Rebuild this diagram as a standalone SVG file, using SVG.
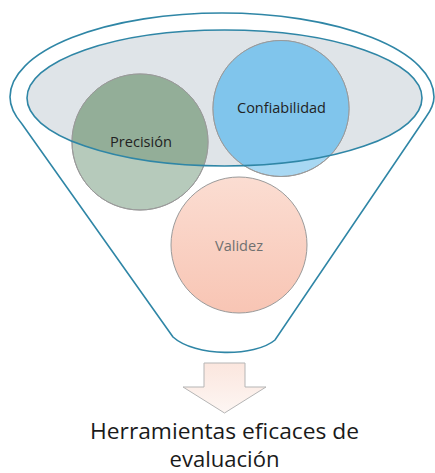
<svg xmlns="http://www.w3.org/2000/svg" width="435" height="473" viewBox="0 0 435 473">
<defs>
<style>
.rim{fill:none;stroke:#2f86a6;stroke-width:1.6}
.circ{stroke:#9a9a9a;stroke-width:1}
.lbl{font-family:"Open Sans","Noto Sans",sans-serif;font-size:14px;fill:#222;text-anchor:middle}
.big{font-family:"Open Sans","Noto Sans",sans-serif;font-size:21px;fill:#1a1a1a;text-anchor:middle}
</style>
<clipPath id="inner"><ellipse cx="224.5" cy="98" rx="197.5" ry="68"/></clipPath>
<linearGradient id="gv" x1="0" y1="0" x2="0" y2="1"><stop offset="0" stop-color="#fbddd2"/><stop offset="1" stop-color="#f8c5b4"/></linearGradient>
<linearGradient id="ga" x1="0" y1="0" x2="0" y2="1"><stop offset="0" stop-color="#fbe6de"/><stop offset="1" stop-color="#fdf6f3"/></linearGradient>
</defs>
<g id="funnel">
<path class="rim" d="M173,337 L22,124 Q10,110 10,97 A212,84 0 0 1 434,97 Q434,106 426,117 L275,340 C255,357 195,357 173,337 Z"/>
<ellipse cx="224.5" cy="98" rx="197.5" ry="68" fill="#dfe4e8"/>
</g>
<g id="precision">
<circle class="circ" cx="140" cy="142" r="68" fill="#b6cabb"/>
<circle cx="140" cy="142" r="68" fill="#93ae98" clip-path="url(#inner)"/>
<circle cx="140" cy="142" r="68" fill="none" class="circ"/>
<text class="lbl" x="141" y="147" textLength="62" lengthAdjust="spacingAndGlyphs">Precisión</text>
</g>
<g id="confiabilidad">
<circle class="circ" cx="281" cy="108.5" r="68" fill="#a8d8f3"/>
<circle cx="281" cy="108.5" r="68" fill="#80c5ec" clip-path="url(#inner)"/>
<circle cx="281" cy="108.5" r="68" fill="none" class="circ"/>
<text class="lbl" x="281.5" y="113" textLength="89" lengthAdjust="spacingAndGlyphs">Confiabilidad</text>
</g>
<g id="validez">
<circle class="circ" cx="239" cy="245" r="68" fill="url(#gv)"/>
<text class="lbl" x="239" y="251" style="fill:#707070" textLength="48" lengthAdjust="spacingAndGlyphs">Validez</text>
</g>
<g id="rim-top">
<ellipse class="rim" cx="224.5" cy="98" rx="197.5" ry="68"/>
</g>
<g id="connectors">
<path d="M204,363 H245 V387 H266 L224.5,413 L183,387 H204 Z" fill="url(#ga)" stroke="#b5b5b5" stroke-width="1"/>
</g>
<g id="result">
<text class="big" x="224.5" y="439" textLength="269" lengthAdjust="spacingAndGlyphs">Herramientas eficaces de</text>
<text class="big" x="224.5" y="467" textLength="110" lengthAdjust="spacingAndGlyphs">evaluación</text>
</g>
</svg>
